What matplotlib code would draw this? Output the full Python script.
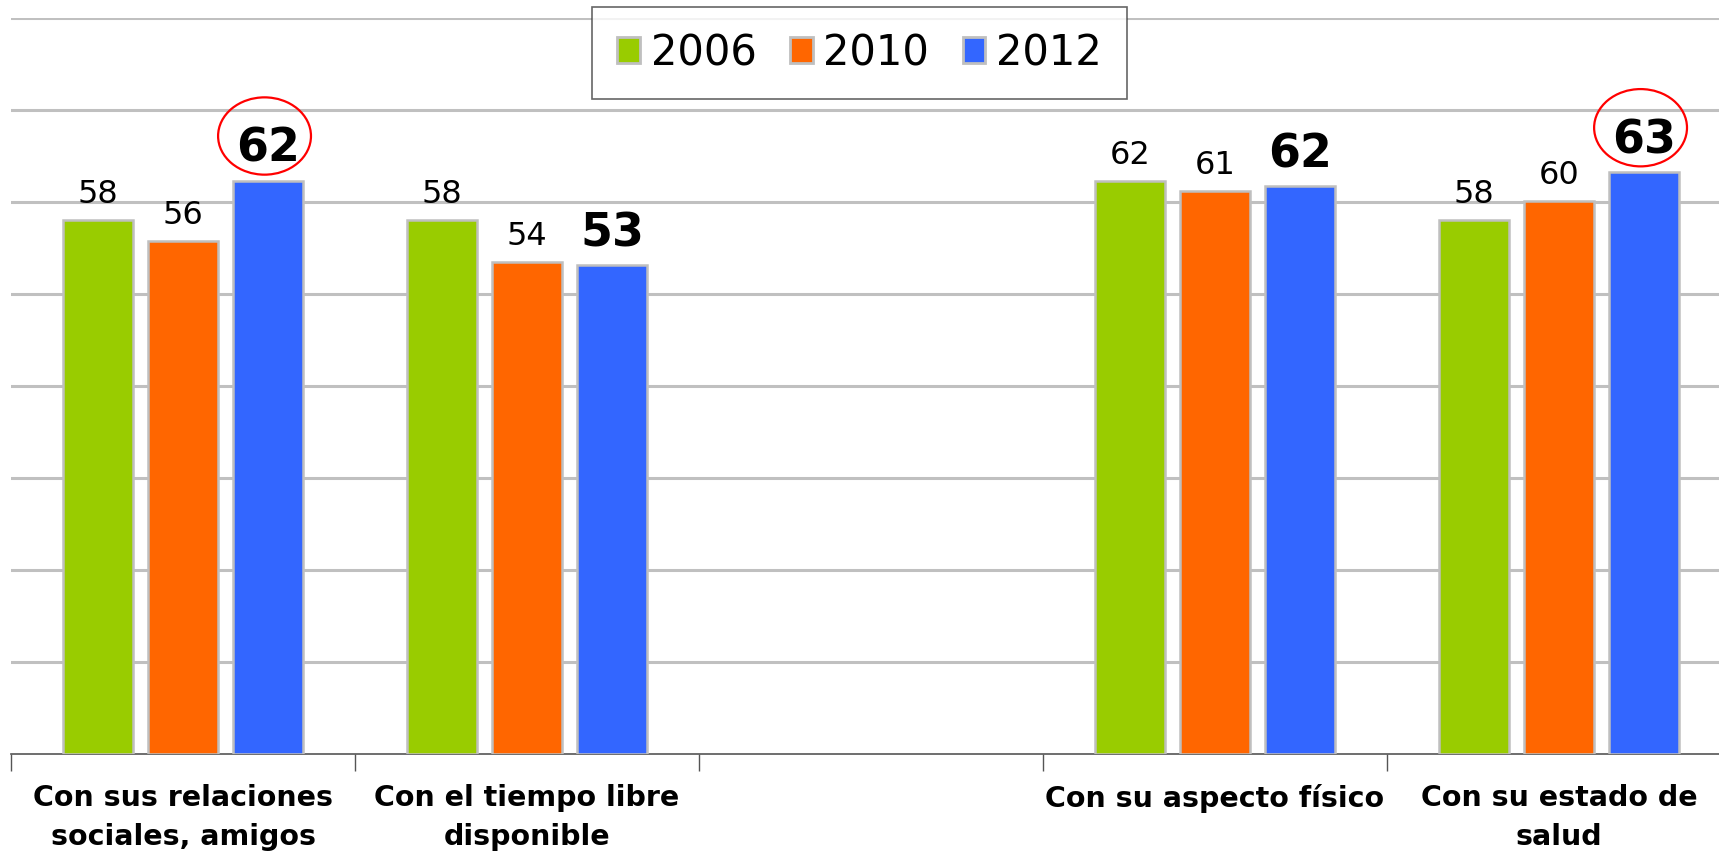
import numpy as np
import matplotlib
matplotlib.use("Agg")
import matplotlib.pyplot as plt
from matplotlib.patches import Ellipse

categories = ["Con sus relaciones\nsociales, amigos", "Con el tiempo libre\ndisponible", "",
              "Con su aspecto físico", "Con su estado de\nsalud"]
years = ["2006", "2010", "2012"]
colors = ["#99CC00", "#FF6600", "#3366FF"]

# bar heights (middle slot is empty)
v2006 = [58.0, 58.0, np.nan, 62.3, 58.0]
v2010 = [55.7, 53.5, np.nan, 61.2, 60.1]
v2012 = [62.3, 53.1, np.nan, 61.7, 63.2]
# printed labels
l2006 = ["58", "58", "", "62", "58"]
l2010 = ["56", "54", "", "61", "60"]
l2012 = ["62", "53", "", "62", "63"]
circled = [0, 4]  # groups whose 2012 label is circled

series = [v2006, v2010, v2012]
labels = [l2006, l2010, l2012]

fig = plt.figure(figsize=(17.19, 8.53), dpi=100)
ax = fig.add_axes([0.0064, 0.115, 1.0006, 0.863])

x = np.arange(len(categories))
width = 0.205
pitch = 0.247
for i, (vals, labs) in enumerate(zip(series, labels)):
    pos = x + (i - 1) * pitch
    ax.bar(pos, vals, width, color=colors[i], edgecolor="#BFBFBF", linewidth=1.8,
           label=years[i], zorder=3)
    for xp, v, lab in zip(pos, vals, labs):
        if lab == "":
            continue
        if i == 2:
            ax.annotate(lab, (xp, v), xytext=(0, 7), textcoords="offset points",
                        ha="center", va="bottom", fontsize=33, fontweight="bold")
        else:
            ax.annotate(lab, (xp, v), xytext=(0, 8), textcoords="offset points",
                        ha="center", va="bottom", fontsize=23)

# red circles around highlighted values
for g in circled:
    xp = x[g] + pitch - 0.01
    v = v2012[g]
    ax.add_patch(Ellipse((xp, v + 4.85), 0.27, 8.4, fill=False, edgecolor="red",
                         linewidth=1.6, zorder=4, clip_on=False))

ax.set_xlim(-0.5, 4.5)
ax.set_ylim(0, 80)
ax.set_yticks(np.arange(10, 81, 10))
ax.yaxis.grid(True, color="#C0C0C0", linewidth=2.2, zorder=0)
ax.tick_params(axis="y", length=0, labelleft=False)
for s in ["left", "right", "top"]:
    ax.spines[s].set_visible(False)
ax.spines["bottom"].set_color("#555555")
ax.spines["bottom"].set_linewidth(1.2)

ax.set_xticks(x)
ax.set_xticklabels(categories, fontsize=20.5, fontweight="bold", linespacing=1.5)
ax.tick_params(axis="x", which="major", length=0, pad=21)
ax.set_xticks(np.arange(-0.5, 5, 1), minor=True)
ax.tick_params(axis="x", which="minor", length=12, width=1, color="#555555")

leg = fig.legend(loc="center", bbox_to_anchor=(0.5, 0.937), ncol=3, fontsize=30,
                 frameon=True, fancybox=False, edgecolor="#404040",
                 handlelength=0.55, handleheight=0.55, handletextpad=0.25,
                 columnspacing=0.8, borderpad=0.6)
leg.get_frame().set_linewidth(1.2)
for h in leg.legend_handles:
    h.set_edgecolor("#BFBFBF")
    h.set_linewidth(2)

fig.savefig("out.png", dpi=100)
